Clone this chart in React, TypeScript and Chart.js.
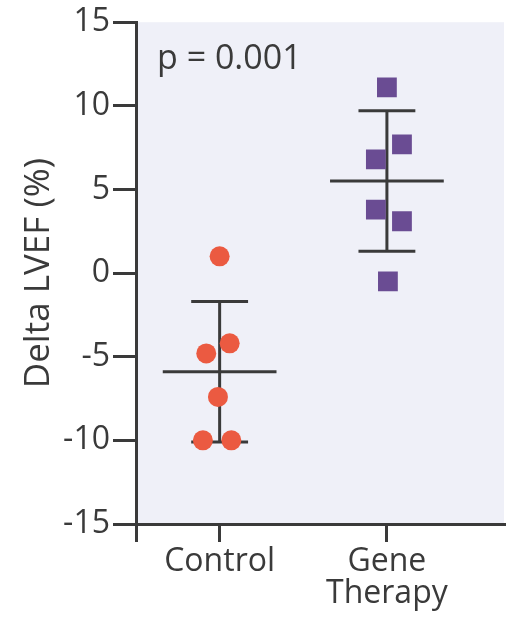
import React, { useEffect, useRef } from "react";
import { Chart, registerables } from "chart.js";

Chart.register(...registerables);

const categories = ["Control", ["Gene", "Therapy"]];
const controlValues = [1.0, -4.8, -4.2, -7.4, -10.0, -10.0];
const controlJitter = [0.0, -0.08, 0.06, -0.01, -0.1, 0.07];
const geneValues = [11.1, 7.7, 6.8, 3.8, 3.1, -0.5];
const geneJitter = [0.0, 0.09, -0.066, -0.066, 0.09, 0.006];
const groupMeans = [-5.9, 5.5];
const groupSDs = [4.2, 4.2];
const yTicks = [-15, -10, -5, 0, 5, 10, 15];
const pLabel = "p = 0.001";
const yTitle = "Delta LVEF (%)";

const INK = "#3a3a3a";
const FONT = "'Open Sans', 'Noto Sans', sans-serif";

export default function App() {
  const ref = useRef<HTMLCanvasElement | null>(null);
  useEffect(() => {
    if (!ref.current) return;
    const bgPlugin = {
      id: "bgPlugin",
      beforeDraw(chart: any) {
        const { ctx, chartArea } = chart;
        ctx.save();
        ctx.fillStyle = "#eff0f8";
        ctx.fillRect(chartArea.left, chartArea.top, chartArea.right - chartArea.left, chartArea.bottom - chartArea.top);
        ctx.restore();
      },
      beforeDatasetsDraw(chart: any) {
        const { ctx, scales, chartArea } = chart;
        const xs = scales.x;
        const ys = scales.y;
        ctx.save();
        ctx.strokeStyle = INK;
        ctx.lineWidth = 3;
        groupMeans.forEach((m, i) => {
          const cx = i + 1;
          const sd = groupSDs[i];
          const hl = (a: number, b: number, v: number) => {
            ctx.beginPath();
            ctx.moveTo(xs.getPixelForValue(a), ys.getPixelForValue(v));
            ctx.lineTo(xs.getPixelForValue(b), ys.getPixelForValue(v));
            ctx.stroke();
          };
          hl(cx - 0.34, cx + 0.34, m);
          hl(cx - 0.17, cx + 0.17, m + sd);
          hl(cx - 0.17, cx + 0.17, m - sd);
          ctx.beginPath();
          ctx.moveTo(xs.getPixelForValue(cx), ys.getPixelForValue(m + sd));
          ctx.lineTo(xs.getPixelForValue(cx), ys.getPixelForValue(m - sd));
          ctx.stroke();
        });
        ctx.fillStyle = INK;
        ctx.font = `34px ${FONT}`;
        ctx.textAlign = "left";
        ctx.textBaseline = "alphabetic";
        ctx.fillText(pLabel, chartArea.left + 21, chartArea.top + 47);
        ctx.restore();
      },
    };

    const chart = new Chart(ref.current, {
      type: "scatter",
      data: {
        datasets: [
          {
            label: "Control",
            data: controlValues.map((v, i) => ({ x: 1 + controlJitter[i], y: v })),
            backgroundColor: "#eb5a41",
            borderWidth: 0,
            pointRadius: 10,
            pointStyle: "circle",
          },
          {
            label: "Gene Therapy",
            data: geneValues.map((v, i) => ({ x: 2 + geneJitter[i], y: v })),
            backgroundColor: "#6a4c93",
            borderWidth: 0,
            pointRadius: 14,
            pointStyle: "rect",
          },
        ],
      },
      options: {
        animation: false,
        responsive: true,
        maintainAspectRatio: false,
        layout: { padding: { top: 20, right: 5, left: 0, bottom: 0 } },
        plugins: { legend: { display: false }, tooltip: { enabled: false } },
        scales: {
          x: {
            type: "linear",
            min: 0.5,
            max: 2.7,
            afterBuildTicks: (scale: any) => {
              scale.ticks = [{ value: 0.5 }, { value: 1 }, { value: 2 }];
            },
            afterFit: (scale: any) => {
              scale.height = 93;
            },
            ticks: {
              color: INK,
              font: { family: FONT, size: 32, lineHeight: 1.0 },
              padding: 4,
              maxRotation: 0,
              autoSkip: false,
              callback: (v: any) => (v === 1 ? categories[0] : v === 2 ? categories[1] : ""),
            },
            grid: { drawOnChartArea: false, drawTicks: true, tickLength: 18, color: INK, lineWidth: 3 },
            border: { display: true, color: INK, width: 3 },
          },
          y: {
            min: -15,
            max: 15,
            afterBuildTicks: (scale: any) => {
              scale.ticks = yTicks.map((v) => ({ value: v }));
            },
            afterFit: (scale: any) => {
              scale.width = 136;
            },
            ticks: {
              color: INK,
              font: { family: FONT, size: 32 },
              padding: 3,
              callback: (v: any) => String(v),
            },
            grid: { drawOnChartArea: false, drawTicks: true, tickLength: 23, color: INK, lineWidth: 3 },
            border: { display: true, color: INK, width: 3 },
            title: {
              display: true,
              text: yTitle,
              color: INK,
              font: { family: FONT, size: 35 },
              padding: { top: 18, bottom: 0 },
            },
          },
        },
      },
      plugins: [bgPlugin],
    } as any);
    return () => chart.destroy();
  }, []);

  return (
    <div style={{ position: "fixed", left: 0, top: 0, width: 518, height: 617, background: "#ffffff" }}>
      <canvas ref={ref} />
    </div>
  );
}
